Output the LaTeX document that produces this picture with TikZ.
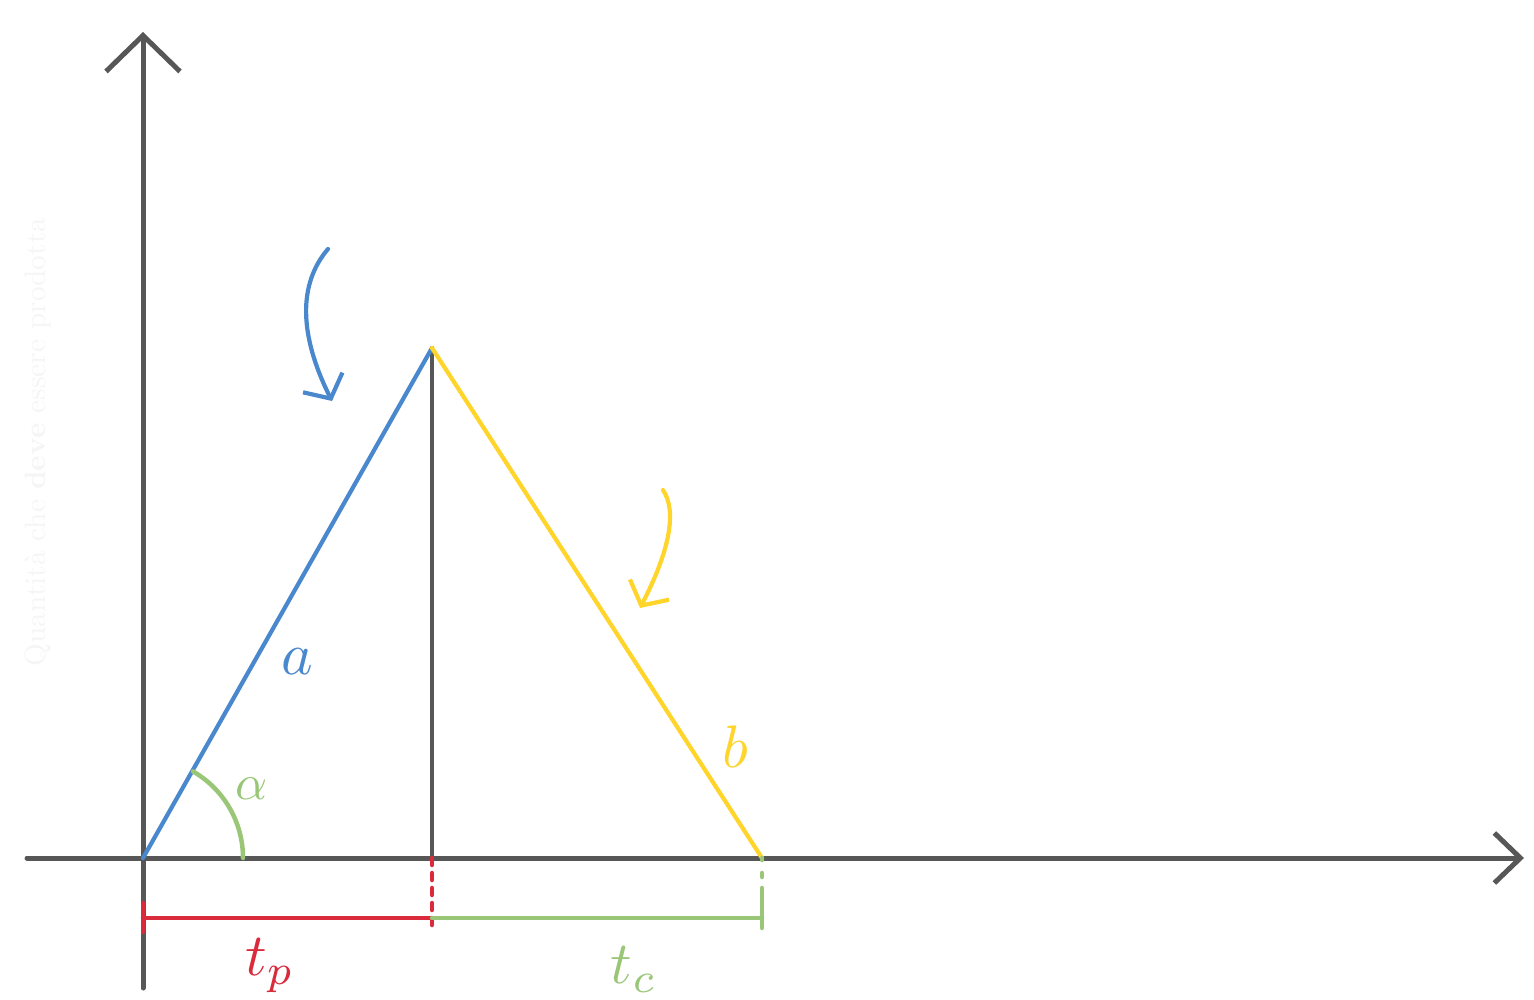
\documentclass[tikz,border=0pt]{standalone}
\usepackage{xcolor}
\usepackage{amsmath,amssymb}
\usetikzlibrary{arrows.meta,positioning}
\definecolor{qtAxis}{HTML}{575757}
\definecolor{qtBlue}{HTML}{4A88CE}
\definecolor{qtYellow}{HTML}{FFD42B}
\definecolor{qtRed}{HTML}{D92B3B}
\definecolor{qtGreen}{HTML}{9AC678}
\definecolor{qtFaint}{HTML}{F5F5F5}
\newcommand{\qtbig}[2][6]{\scalebox{#1}{$#2$}}
\tikzset{
  qtaxis/.style={draw=qtAxis,line width=5pt,line cap=round,line join=round},
  qtside/.style={line width=4.2pt,line cap=round},
  qtmeas/.style={line width=4.5pt,line cap=round},
  qthint/.style={line width=4.2pt,line cap=round,line join=round,
                 -{Straight Barb[length=18pt,width=44pt]}},
  qtlbl/.style={inner sep=0pt},
}

\begin{document}
\begin{tikzpicture}[x=1pt,y=-1pt]
  \useasboundingbox (0,0) rectangle (1534,1000);

  % Points of the triangle and of the axes.
  \coordinate (O) at (143,858);
  \coordinate (P) at (432,348);
  \coordinate (F) at (432,858);
  \coordinate (B) at (762,858);
  \coordinate (ys) at (143,988);
  \coordinate (ye) at (143,32);
  \coordinate (xs) at (27,858);
  \coordinate (xe) at (1524,858);

  % Faint axis caption.
  \node[rotate=90,text=qtFaint,scale=0.98] (ylab) at (38,442)
    {\qtbig[3]{\text{Quantità che \textbf{deve} essere prodotta}}};

  % Axes.
  \draw[qtaxis,-{Straight Barb[length=36pt,width=74pt]}] (ys)--(ye);
  \draw[qtaxis,-{Straight Barb[length=26pt,width=50pt]}] (xs)--(xe);

  % Sides.
  \draw[qtside,draw=qtAxis] (P)--(F);
  \draw[qtside,draw=qtBlue] (O)--(P);
  \draw[qtside,draw=qtYellow] (P)--(B);

  % Angle alpha.
  \coordinate (ae) at (243,858);
  \draw[qtmeas,draw=qtGreen] (ae) arc[start angle=0,end angle=-60,radius=100];
  \node[qtlbl,text=qtGreen] (lal) at (252,789) {\qtbig[5]{\alpha}};

  % Times below the axis.
  \coordinate (tp0) at (143,918);
  \coordinate (tp1) at (432,918);
  \coordinate (tc1) at (762,918);
  \draw[qtmeas,draw=qtRed] (143,903)--(143,932);
  \draw[qtmeas,draw=qtRed] (tp0)--(tp1);
  \draw[qtmeas,draw=qtRed,dash pattern=on 7pt off 8pt] (F)--(432,928);
  \draw[qtmeas,draw=qtGreen] (tp1)--(tc1);
  \draw[qtmeas,draw=qtGreen,dash pattern=on 2pt off 13pt on 4pt off 11pt] (B)--(762,890);
  \draw[qtmeas,draw=qtGreen] (762,890)--(762,928);

  % Labels.
  \node[qtlbl,text=qtBlue] (la) at (297,662) {\qtbig{a}};
  \node[qtlbl,text=qtYellow] (lb) at (735,747) {\qtbig{b}};
  \node[qtlbl,text=qtRed] (ltp) at (270,966) {\qtbig{t_p}};
  \node[qtlbl,text=qtGreen] (ltc) at (634,970) {\qtbig{t_c}};

  % Hint arrows.
  \coordinate (ha0) at (328,249);
  \coordinate (ha1) at (332,401);
  \coordinate (hb0) at (663,490);
  \coordinate (hb1) at (640,608);
  \draw[qthint,draw=qtBlue] (ha0) .. controls (298,284) and (299,335) .. (ha1);
  \draw[qthint,draw=qtYellow] (hb0) .. controls (677,511) and (670,550) .. (hb1);
\end{tikzpicture}
\end{document}
